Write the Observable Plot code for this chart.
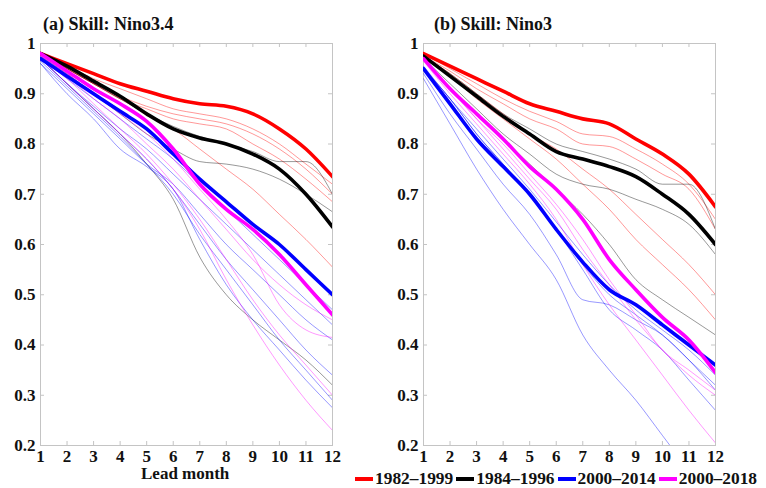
<!DOCTYPE html>
<html>
<head>
<meta charset="utf-8">
<script src="https://cdn.jsdelivr.net/npm/d3@7"></script>
<script src="https://cdn.jsdelivr.net/npm/@observablehq/plot@0.6"></script>
<style>
  html, body { margin: 0; padding: 0; background: #fff; }
  #root { position: relative; width: 766px; height: 488px; overflow: hidden; font-family: "Liberation Serif", "DejaVu Serif", serif; font-weight: bold; }
  .panel { position: absolute; top: 0; }
  .title { position: absolute; top: 13px; font-size: 18px; line-height: 22px; color: #111; white-space: nowrap; }
  .xlabel { position: absolute; top: 464px; font-size: 17px; color: #111; white-space: nowrap; }
  #legend { position: absolute; top: 468px; left: 355px; font-size: 17.4px; white-space: nowrap; color: #111; }
  #legend .item { display: inline-block; margin-right: 3px; }
  #legend .sw { display: inline-block; width: 18px; height: 4px; vertical-align: middle; margin-right: 2px; position: relative; top: -1px; }
</style>
</head>
<body>
<div id="root"></div>
<script>
// ---------------- data ----------------
const leads = [1, 2, 3, 4, 5, 6, 7, 8, 9, 10, 11, 12];
const xTicks = [1, 2, 3, 4, 5, 6, 7, 8, 9, 10, 11, 12];
const yTicks = [0.2, 0.3, 0.4, 0.5, 0.6, 0.7, 0.8, 0.9, 1];
const periods = ["1982–1999", "1984–1996", "2000–2014", "2000–2018"];
const colors = ["#ff0000", "#000000", "#0000ff", "#ff00ff"];
const titles = ["(a) Skill: Nino3.4", "(b) Skill: Nino3"];

// Panel (a) Nino3.4 — ensemble means (thick)
const aRed     = [0.98, 0.96, 0.94, 0.92, 0.905, 0.89, 0.88, 0.875, 0.86, 0.83, 0.79, 0.735];
const aBlack   = [0.98, 0.955, 0.925, 0.895, 0.86, 0.83, 0.812, 0.80, 0.78, 0.75, 0.70, 0.635];
const aBlue    = [0.97, 0.935, 0.90, 0.865, 0.83, 0.78, 0.73, 0.685, 0.64, 0.60, 0.55, 0.50];
const aMagenta = [0.98, 0.945, 0.91, 0.88, 0.845, 0.79, 0.72, 0.67, 0.63, 0.58, 0.52, 0.46];
// Panel (a) members (thin)
const aRedM = [
  [0.98, 0.955, 0.93, 0.91, 0.89, 0.87, 0.86, 0.85, 0.83, 0.80, 0.76, 0.72],
  [0.98, 0.95, 0.92, 0.895, 0.875, 0.86, 0.85, 0.84, 0.82, 0.79, 0.75, 0.70],
  [0.98, 0.95, 0.92, 0.89, 0.87, 0.85, 0.84, 0.83, 0.80, 0.77, 0.73, 0.685],
  [0.98, 0.95, 0.92, 0.89, 0.86, 0.83, 0.79, 0.75, 0.71, 0.66, 0.61, 0.555]
];
const aBlackM = [
  [0.98, 0.95, 0.92, 0.89, 0.86, 0.835, 0.815, 0.80, 0.785, 0.765, 0.765, 0.70],
  [0.975, 0.94, 0.90, 0.86, 0.82, 0.79, 0.765, 0.76, 0.75, 0.73, 0.70, 0.665],
  [0.97, 0.92, 0.87, 0.82, 0.76, 0.69, 0.575, 0.50, 0.45, 0.41, 0.37, 0.32]
];
const aBlueM = [
  [0.97, 0.93, 0.89, 0.85, 0.81, 0.77, 0.72, 0.67, 0.62, 0.57, 0.52, 0.47],
  [0.97, 0.92, 0.875, 0.83, 0.79, 0.74, 0.69, 0.64, 0.59, 0.54, 0.49, 0.44],
  [0.96, 0.91, 0.86, 0.81, 0.76, 0.72, 0.66, 0.60, 0.55, 0.50, 0.45, 0.41],
  [0.96, 0.90, 0.85, 0.79, 0.755, 0.71, 0.61, 0.52, 0.45, 0.39, 0.33, 0.275],
  [0.97, 0.92, 0.87, 0.82, 0.77, 0.71, 0.64, 0.57, 0.51, 0.45, 0.39, 0.34],
  [0.965, 0.915, 0.865, 0.815, 0.76, 0.70, 0.62, 0.55, 0.48, 0.41, 0.35, 0.29]
];
const aMagentaM = [
  [0.975, 0.94, 0.90, 0.86, 0.82, 0.77, 0.71, 0.65, 0.58, 0.48, 0.43, 0.415],
  [0.97, 0.92, 0.87, 0.82, 0.77, 0.71, 0.63, 0.53, 0.44, 0.36, 0.29, 0.23],
  [0.97, 0.93, 0.88, 0.83, 0.78, 0.72, 0.65, 0.57, 0.49, 0.42, 0.36, 0.30],
  [0.975, 0.935, 0.89, 0.85, 0.80, 0.75, 0.69, 0.63, 0.57, 0.52, 0.48, 0.45]
];

// Panel (b) Nino3 — ensemble means (thick)
const bRed     = [0.98, 0.955, 0.93, 0.905, 0.88, 0.865, 0.85, 0.84, 0.81, 0.78, 0.74, 0.675];
const bBlack   = [0.975, 0.935, 0.895, 0.855, 0.82, 0.785, 0.77, 0.755, 0.735, 0.70, 0.66, 0.60];
const bBlue    = [0.95, 0.88, 0.81, 0.755, 0.70, 0.63, 0.565, 0.51, 0.48, 0.44, 0.40, 0.36];
const bMagenta = [0.97, 0.91, 0.86, 0.81, 0.755, 0.71, 0.65, 0.57, 0.51, 0.455, 0.41, 0.345];
// Panel (b) members (thin)
const bRedM = [
  [0.98, 0.95, 0.92, 0.89, 0.865, 0.845, 0.82, 0.815, 0.79, 0.76, 0.72, 0.65],
  [0.975, 0.945, 0.91, 0.88, 0.85, 0.83, 0.80, 0.795, 0.77, 0.74, 0.71, 0.63],
  [0.975, 0.94, 0.90, 0.86, 0.82, 0.79, 0.75, 0.71, 0.66, 0.61, 0.56, 0.50],
  [0.97, 0.935, 0.89, 0.85, 0.81, 0.77, 0.72, 0.67, 0.61, 0.56, 0.51, 0.45]
];
const bBlackM = [
  [0.975, 0.94, 0.90, 0.86, 0.83, 0.80, 0.785, 0.77, 0.75, 0.72, 0.72, 0.63],
  [0.97, 0.92, 0.87, 0.82, 0.78, 0.74, 0.72, 0.71, 0.69, 0.67, 0.64, 0.58],
  [0.97, 0.91, 0.86, 0.81, 0.76, 0.71, 0.66, 0.60, 0.53, 0.49, 0.455, 0.42]
];
const bBlueM = [
  [0.93, 0.84, 0.75, 0.67, 0.60, 0.53, 0.42, 0.35, 0.29, 0.22, 0.15, 0.08],
  [0.94, 0.86, 0.79, 0.72, 0.66, 0.58, 0.49, 0.48, 0.45, 0.42, 0.37, 0.31],
  [0.95, 0.89, 0.82, 0.76, 0.70, 0.63, 0.55, 0.47, 0.43, 0.39, 0.33, 0.27],
  [0.95, 0.89, 0.82, 0.76, 0.70, 0.63, 0.56, 0.50, 0.46, 0.42, 0.37, 0.32],
  [0.955, 0.89, 0.83, 0.77, 0.71, 0.645, 0.58, 0.52, 0.47, 0.43, 0.39, 0.34]
];
const bMagentaM = [
  [0.97, 0.91, 0.85, 0.80, 0.74, 0.68, 0.61, 0.53, 0.46, 0.39, 0.35, 0.31],
  [0.965, 0.90, 0.84, 0.78, 0.72, 0.65, 0.56, 0.48, 0.41, 0.34, 0.27, 0.205],
  [0.97, 0.91, 0.85, 0.79, 0.73, 0.67, 0.59, 0.52, 0.45, 0.39, 0.34, 0.30]
];

// ---------------- build rows ----------------
function rows(means, members) {
  const thin = [], thick = [];
  members.forEach((group, gi) => {
    group.forEach((series, si) => {
      series.forEach((v, i) => thin.push({ lead: leads[i], skill: v, id: gi + "-" + si, color: colors[gi] }));
    });
  });
  means.forEach((series, gi) => {
    series.forEach((v, i) => thick.push({ lead: leads[i], skill: v, id: "m" + gi, color: colors[gi] }));
  });
  return { thin, thick };
}

const panels = [
  rows([aRed, aBlack, aBlue, aMagenta], [aRedM, aBlackM, aBlueM, aMagentaM]),
  rows([bRed, bBlack, bBlue, bMagenta], [bRedM, bBlackM, bBlueM, bMagentaM])
];

const W = 383, H = 488, mL = 40, mR = 51, mT = 43, mB = 43;
const innerH = H - mT - mB, innerW = W - mL - mR;
const root = document.getElementById("root");

panels.forEach((p, k) => {
  const chart = Plot.plot({
    width: W, height: H,
    marginLeft: mL, marginRight: mR, marginTop: mT, marginBottom: mB,
    style: { fontFamily: "'Liberation Serif', serif", fontWeight: "bold", fontSize: "17px", color: "#111", background: "transparent" },
    x: { domain: [1, 12] },
    y: { domain: [0.2, 1] },
    color: { type: "identity" },
    marks: [
      Plot.frame({ stroke: "#c4c4c4", strokeWidth: 1 }),
      Plot.tickX(xTicks, { x: d => d, stroke: "#c4c4c4", insetTop: innerH - 4 }),
      Plot.tickX(xTicks, { x: d => d, stroke: "#c4c4c4", insetBottom: innerH - 4 }),
      Plot.tickY(yTicks, { y: d => d, stroke: "#c4c4c4", insetRight: innerW - 4 }),
      Plot.tickY(yTicks, { y: d => d, stroke: "#c4c4c4", insetLeft: innerW - 4 }),
      Plot.axisX({ ticks: xTicks, tickFormat: d => String(d), tickSize: 0, tickPadding: 4, label: null, fill: "#111" }),
      Plot.axisY({ ticks: yTicks, tickFormat: d => String(d), tickSize: 0, tickPadding: 5, label: null, fill: "#111" }),
      Plot.line(p.thin, { x: "lead", y: "skill", z: "id", stroke: "color", strokeWidth: 0.9, strokeOpacity: 0.45, curve: "monotone-x", clip: true }),
      Plot.line(p.thick, { x: "lead", y: "skill", z: "id", stroke: "color", strokeWidth: 3.6, curve: "monotone-x", clip: true })
    ]
  });
  chart.classList.add("panel");
  chart.style.left = (k * W) + "px";
  root.appendChild(chart);

  const t = document.createElement("div");
  t.className = "title";
  t.style.left = (k * W + 43 + (k ? 8 : 0)) + "px";
  t.textContent = titles[k];
  root.appendChild(t);
});

const xl = document.createElement("div");
xl.className = "xlabel";
xl.textContent = "Lead month";
xl.style.left = "141px";
root.appendChild(xl);

const legend = document.createElement("div");
legend.id = "legend";
periods.forEach((p, i) => {
  const item = document.createElement("span");
  item.className = "item";
  const sw = document.createElement("span");
  sw.className = "sw";
  sw.style.background = colors[i];
  item.appendChild(sw);
  item.appendChild(document.createTextNode(p));
  legend.appendChild(item);
});
root.appendChild(legend);
</script>
</body>
</html>
